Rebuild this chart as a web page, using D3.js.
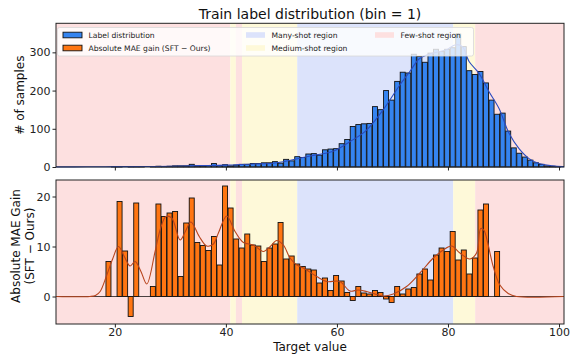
<!DOCTYPE html>
<html>
<head>
<meta charset="utf-8">
<script src="https://cdn.jsdelivr.net/npm/d3@7"></script>
<style>
  html, body { margin: 0; padding: 0; background: #fff; }
  svg { display: block; font-family: "DejaVu Sans", sans-serif; }
</style>
</head>
<body>
<div id="chart"></div>
<script>
// bins (bin width = 1)
const countBins = d3.range(20, 101);
const labelCounts = [1, 1, 0, 1, 1, 1, 0, 1, 2, 1, 2, 3, 3, 3, 7, 3, 3, 4, 9, 4,
  6, 3, 5, 7, 7, 9, 9, 11, 11, 14, 10, 20, 16, 27, 25, 34, 35, 31, 45, 47,
  48, 61, 72, 106, 111, 113, 114, 158, 150, 200, 175, 224, 248, 246, 295, 289, 274, 298, 308, 302,
  308, 312, 348, 315, 252, 242, 250, 220, 175, 138, 141, 94, 50, 36, 26, 18, 11, 7, 3, 2, 1];

// smoothed label distribution
const labelCurveX = [9.4, 15, 20, 25, 30, 35, 40, 45, 48, 50, 53.9, 56, 59.3, 62.3, 65.3, 68.3, 71.3, 73.1, 74.9, 77.3,
  79.6, 81.4, 82.6, 83.8, 85.6, 87.4, 89.2, 91, 92.8, 94.6, 96.4, 98.8, 100.6, 100.9];
const labelCurveY = [0.3, 0.5, 1, 1.2, 2, 3.5, 5, 8, 9, 13, 25, 31, 41, 66, 96, 149, 214, 249, 284, 298,
  306, 320, 315, 276, 245, 197, 153, 88, 48, 22, 9, 3, 1, 1];

const gainBins = d3.range(19, 90);
const gainValues = [7.0, null, 19.0, 9.1, -4.0, 18.7, null, null, 2.0, 18.5,
  16.0, 16.7, 17.0, 4.0, 14.7, 19.7, 10.8, 10.2, 9.2, 12.0,
  6.3, 22.1, 17.7, 11.5, 9.7, 12.5, 10.3, 10.1, 7.0, 9.7,
  10.5, 14.8, 7.5, 8.1, 6.5, 6.0, 5.5, 5.3, 2.7, 3.7,
  1.2, 4.2, 3.1, 0.8, -0.8, 2.0, 0.7, 0.5, 1.2, 0.8,
  -0.5, -1.2, 2.0, 0.5, 1.5, 1.8, 4.5, 5.5, 3.3, 8.3,
  9.7, 9.0, 13.0, 7.3, 9.3, 4.5, 7.7, 17.3, 18.5, null, 9.0];

const gainCurveX = [9.4, 15.5, 16.5, 17.35, 18.55, 19.6, 20.65, 21.7, 22.75, 23.65, 24.7, 25.75, 27.25, 28.2, 29.2, 30.25,
  31.75, 32.7, 33.7, 35.2, 36.55, 37.75, 38.65, 40.15, 41.65, 43.15, 44.95, 46.75, 48, 49.15, 50.35, 51.55,
  52.8, 53.95, 56.35, 58.15, 60.5, 62.35, 63.8, 65.35, 68.35, 70.15, 72.55, 74.95, 77.35, 79.15, 80.65, 82.15,
  83.95, 85.15, 85.9, 86.5, 87.1, 88.15, 89.35, 90.85, 92.35, 100.9];
const gainCurveY = [0, 0, 0.2, 1.0, 4.3, 7.5, 10, 8, 6.1, 7.0, 5, 2.5, 9, 13.5, 16, 15.7,
  11.3, 13, 14.9, 12, 10.1, 10.5, 12.7, 16.1, 13, 10.8, 10.3, 9.0, 10, 11.2, 10.3, 7.7,
  6.3, 5.7, 4.0, 3.0, 3.0, 1.1, 1.3, 1.0, 0.1, 0.5, 2.0, 4.7, 7.7, 9.3, 10.1, 8.7,
  7.5, 8.7, 13.6, 13.2, 11, 6.0, 2.3, 0.6, 0, 0];

// shot regions
const regionEdges = [9.4, 40.8, 41.8, 42.9, 52.85, 80.95, 84.9, 100.9];
const regionTypes = ['few', 'medium', 'few', 'medium', 'many', 'medium', 'few'];

const xTicks = [20, 40, 60, 80, 100];
const countTicks = [0, 100, 200, 300];
const gainTicks = [0, 10, 20];

const regionColor = { many: '#dce3fb', medium: '#fef9d9', few: '#fde0e0' };
const blue = '#3584f0', orange = '#ff7512';

const width = 571, height = 354;
const left = 56, right = 564;
const top1 = 23.3, bottom1 = 167;
const top2 = 180, bottom2 = 324;

const svg = d3.select('#chart').append('svg')
  .attr('width', width)
  .attr('height', height);

const x = d3.scaleLinear().domain([9.4, 100.9]).range([left, right]);
const yCount = d3.scaleLinear().domain([0, 376]).range([bottom1, top1]);
const yGain = d3.scaleLinear().domain([-5.5, 23.3]).range([bottom2, top2]);

function drawRegions(g, y0, y1) {
  g.selectAll('rect.region')
    .data(regionTypes)
    .enter()
    .append('rect')
    .attr('class', 'region')
    .attr('x', (d, i) => x(regionEdges[i]))
    .attr('width', (d, i) => x(regionEdges[i + 1]) - x(regionEdges[i]))
    .attr('y', y0)
    .attr('height', y1 - y0)
    .attr('fill', d => regionColor[d]);
}

function drawFrame(g, y0, y1) {
  g.append('rect')
    .attr('x', left).attr('y', y0)
    .attr('width', right - left).attr('height', y1 - y0)
    .attr('fill', 'none')
    .attr('stroke', '#222')
    .attr('stroke-width', 1);
}

function styleAxis(a, size) {
  a.select('.domain').remove();
  a.selectAll('.tick line').attr('stroke', '#222');
  a.selectAll('.tick text').attr('fill', '#222').style('font-size', size).style('font-family', '"DejaVu Sans", sans-serif');
}

// ---- top panel
const p1 = svg.append('g');
drawRegions(p1, top1, bottom1);

p1.selectAll('rect.count')
  .data(countBins.map((b, i) => ({ b, v: labelCounts[i] })).filter(d => d.v > 0))
  .enter()
  .append('rect')
  .attr('class', 'count')
  .attr('x', d => x(d.b - 0.6))
  .attr('width', d => x(d.b + 0.3) - x(d.b - 0.6))
  .attr('y', d => yCount(d.v))
  .attr('height', d => yCount(0) - yCount(d.v))
  .attr('fill', blue)
  .attr('stroke', '#111')
  .attr('stroke-width', 0.9);

p1.append('path')
  .datum(labelCurveX.map((v, i) => [v, labelCurveY[i]]))
  .attr('d', d3.line().x(d => x(d[0])).y(d => yCount(d[1])).curve(d3.curveCatmullRom.alpha(0.5)))
  .attr('fill', 'none')
  .attr('stroke', '#2a4bc0')
  .attr('stroke-width', 1.1);

drawFrame(p1, top1, bottom1);

p1.append('g')
  .attr('transform', `translate(${left},0)`)
  .call(d3.axisLeft(yCount).tickValues(countTicks).tickSize(3.5).tickPadding(2))
  .call(styleAxis, '11px');

p1.append('g')
  .attr('transform', `translate(0,${bottom1})`)
  .call(d3.axisBottom(x).tickValues(xTicks).tickSize(3.5).tickFormat(''))
  .call(styleAxis, '11px');

// legend
const lg = p1.append('g');
lg.append('rect')
  .attr('x', 57.5).attr('y', 27.5)
  .attr('width', 416).attr('height', 28.5)
  .attr('rx', 2)
  .attr('fill', 'rgba(255,255,255,0.8)')
  .attr('stroke', '#d8d8d8')
  .attr('stroke-width', 0.8);

const legendItems = [
  { label: 'Label distribution', fill: blue, stroke: '#111', lx: 63, ly: 35 },
  { label: 'Absolute MAE gain (SFT \u2212 Ours)', fill: orange, stroke: '#111', lx: 63, ly: 48 },
  { label: 'Many-shot region', fill: regionColor.many, stroke: 'none', lx: 246, ly: 35 },
  { label: 'Medium-shot region', fill: regionColor.medium, stroke: 'none', lx: 246, ly: 48 },
  { label: 'Few-shot region', fill: regionColor.few, stroke: 'none', lx: 375, ly: 35 }
];

const li = lg.selectAll('g.item').data(legendItems).enter().append('g').attr('class', 'item');
li.append('rect')
  .attr('x', d => d.lx).attr('y', d => d.ly - 2.8)
  .attr('width', 19).attr('height', 5.6)
  .attr('fill', d => d.fill)
  .attr('stroke', d => d.stroke)
  .attr('stroke-width', 0.9);
li.append('text')
  .attr('x', d => d.lx + 25.5).attr('y', d => d.ly)
  .attr('dy', '0.35em')
  .style('font-size', '7.6px')
  .attr('fill', '#222')
  .text(d => d.label);

// ---- bottom panel
const p2 = svg.append('g');
drawRegions(p2, top2, bottom2);

p2.append('line')
  .attr('x1', left).attr('x2', right)
  .attr('y1', yGain(0)).attr('y2', yGain(0))
  .attr('stroke', '#4a4040')
  .attr('stroke-width', 1.2);

p2.selectAll('rect.gain')
  .data(gainBins.map((b, i) => ({ b, v: gainValues[i] })).filter(d => d.v !== null))
  .enter()
  .append('rect')
  .attr('class', 'gain')
  .attr('x', d => x(d.b - 0.6))
  .attr('width', d => x(d.b + 0.3) - x(d.b - 0.6))
  .attr('y', d => yGain(Math.max(0, d.v)))
  .attr('height', d => Math.abs(yGain(d.v) - yGain(0)))
  .attr('fill', orange)
  .attr('stroke', '#111')
  .attr('stroke-width', 0.9);

p2.append('path')
  .datum(gainCurveX.map((v, i) => [v, gainCurveY[i]]))
  .attr('d', d3.line().x(d => x(d[0])).y(d => yGain(d[1])).curve(d3.curveCatmullRom.alpha(0.5)))
  .attr('fill', 'none')
  .attr('stroke', '#b8441c')
  .attr('stroke-width', 1.1);

drawFrame(p2, top2, bottom2);

p2.append('g')
  .attr('transform', `translate(${left},0)`)
  .call(d3.axisLeft(yGain).tickValues(gainTicks).tickSize(3.5).tickPadding(2))
  .call(styleAxis, '11px');

p2.append('g')
  .attr('transform', `translate(0,${bottom2})`)
  .call(d3.axisBottom(x).tickValues(xTicks).tickSize(3.5).tickPadding(1))
  .call(styleAxis, '11px');

// ---- text
svg.append('text')
  .attr('x', (left + right) / 2).attr('y', 19)
  .attr('text-anchor', 'middle')
  .style('font-size', '14px')
  .attr('fill', '#111')
  .text('Train label distribution (bin = 1)');

svg.append('text')
  .attr('transform', `translate(24,${(top1 + bottom1) / 2}) rotate(-90)`)
  .attr('text-anchor', 'middle')
  .style('font-size', '12px')
  .attr('fill', '#111')
  .text('# of samples');

const yl = svg.append('text')
  .attr('transform', `translate(0,${(top2 + bottom2) / 2 - 6}) rotate(-90)`)
  .attr('text-anchor', 'middle')
  .style('font-size', '12px')
  .attr('fill', '#111');
yl.append('tspan').attr('x', 0).attr('y', 20).text('Absolute MAE Gain');
yl.append('tspan').attr('x', 0).attr('y', 34).text('(SFT \u2212 Ours)');

svg.append('text')
  .attr('x', (left + right) / 2).attr('y', 350.5)
  .attr('text-anchor', 'middle')
  .style('font-size', '12px')
  .attr('fill', '#111')
  .text('Target value');
</script>
</body>
</html>
